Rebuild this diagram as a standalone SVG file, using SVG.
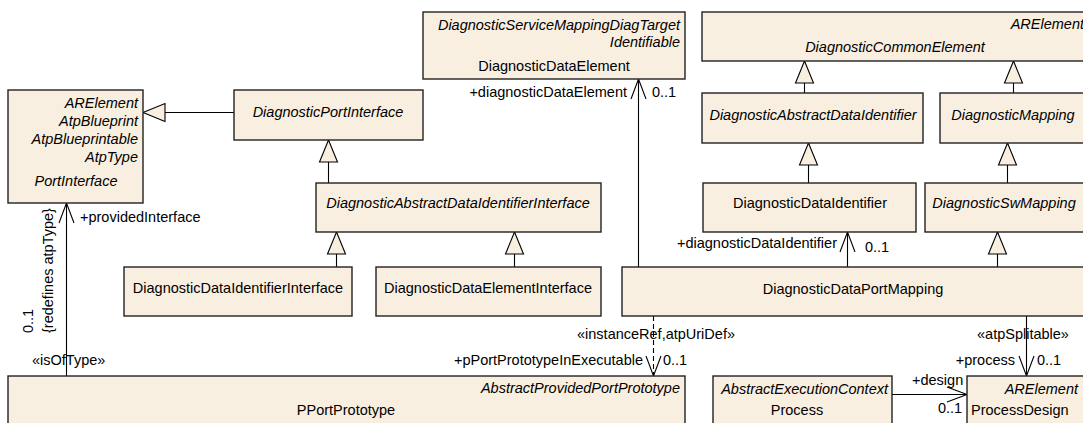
<svg xmlns="http://www.w3.org/2000/svg" width="1083" height="423" viewBox="0 0 1083 423">
<style>
.box{fill:#F9EFE0;stroke:#222;stroke-width:1.4}
.t{font-family:"Liberation Sans",Arial,sans-serif;font-size:14.5px;fill:#000}
.i{font-style:italic}
.c{text-anchor:middle}
.r{text-anchor:end}
.ln{stroke:#000;stroke-width:1.1;fill:none}
.gen{marker-end:url(#gen)}
.arr{marker-end:url(#open)}
.dash{stroke-dasharray:5,3}
</style>
<defs>
<marker id="gen" viewBox="-1 -1 24 20" refX="22" refY="9" markerWidth="24" markerHeight="20" markerUnits="userSpaceOnUse" orient="auto" style="overflow:visible">
<path d="M0,0 L22,9 L0,18 Z" fill="#F9EFE0" stroke="#000" stroke-width="1.1"/>
</marker>
<marker id="open" viewBox="-1 -1 22 17" refX="20" refY="7.5" markerWidth="22" markerHeight="17" markerUnits="userSpaceOnUse" orient="auto" style="overflow:visible">
<path d="M0,0 L20,7.5 L0,15" fill="none" stroke="#000" stroke-width="1.1"/>
</marker>
</defs>
<rect width="1083" height="423" fill="#fff"/>

<g id="connectors">
<path class="ln gen" d="M234,112.5 H143"/>
<path class="ln gen" d="M328.5,183 V140"/>
<path class="ln gen" d="M336.5,267 V232"/>
<path class="ln gen" d="M514.5,267 V232"/>
<path class="ln gen" d="M804.5,93 V61"/>
<path class="ln gen" d="M1013.5,93 V61"/>
<path class="ln gen" d="M808.5,183 V143"/>
<path class="ln gen" d="M1007.5,183 V143"/>
<path class="ln gen" d="M997.5,267 V232"/>
<path class="ln arr" d="M847.5,267 V232"/>
<path class="ln arr" d="M638.5,267 V79"/>
<path class="ln arr dash" d="M653.5,316 V376"/>
<path class="ln arr" d="M1026.5,316 V376"/>
<path class="ln arr" d="M892,394.5 H967"/>
<path class="ln arr" d="M66.5,376 V203"/>
<text class="t" x="80" y="222">+providedInterface</text>
<text class="t" transform="translate(53,333) rotate(-90)">{redefines atpType}</text>
<text class="t" transform="translate(33,333) rotate(-90)">0..1</text>
<text class="t" x="32" y="365">«isOfType»</text>
<text class="t r" x="627" y="97">+diagnosticDataElement</text>
<text class="t" x="652" y="97">0..1</text>
<text class="t r" x="837" y="248">+diagnosticDataIdentifier</text>
<text class="t" x="865" y="252">0..1</text>
<text class="t" x="577" y="339">«instanceRef,atpUriDef»</text>
<text class="t r" x="643" y="365">+pPortPrototypeInExecutable</text>
<text class="t" x="663" y="365">0..1</text>
<text class="t" x="977" y="339">«atpSplitable»</text>
<text class="t r" x="1015" y="365">+process</text>
<text class="t" x="1037" y="365">0..1</text>
<text class="t" x="912" y="385">+design</text>
<text class="t" x="938" y="413">0..1</text>
</g>

<g id="PortInterface">
<rect class="box" x="8" y="90" width="135" height="113"/>
<text class="t i r" x="138" y="108">ARElement</text>
<text class="t i r" x="138" y="126">AtpBlueprint</text>
<text class="t i r" x="138" y="144">AtpBlueprintable</text>
<text class="t i r" x="138" y="162">AtpType</text>
<text class="t i c" x="76" y="186">PortInterface</text>
</g>

<g id="DiagnosticPortInterface">
<rect class="box" x="234" y="90" width="189" height="50"/>
<text class="t i c" x="328" y="117">DiagnosticPortInterface</text>
</g>

<g id="DiagnosticAbstractDataIdentifierInterface">
<rect class="box" x="316" y="183" width="285" height="49"/>
<text class="t i c" x="458" y="208">DiagnosticAbstractDataIdentifierInterface</text>
</g>

<g id="DiagnosticDataIdentifierInterface">
<rect class="box" x="124" y="267" width="228" height="49"/>
<text class="t c" x="238" y="293">DiagnosticDataIdentifierInterface</text>
</g>

<g id="DiagnosticDataElementInterface">
<rect class="box" x="376" y="267" width="225" height="49"/>
<text class="t c" x="488" y="293">DiagnosticDataElementInterface</text>
</g>

<g id="DiagnosticDataElement">
<rect class="box" x="423" y="12" width="262" height="67"/>
<text class="t i r" x="680" y="30">DiagnosticServiceMappingDiagTarget</text>
<text class="t i r" x="680" y="47">Identifiable</text>
<text class="t c" x="554" y="71">DiagnosticDataElement</text>
</g>

<g id="DiagnosticCommonElement">
<rect class="box" x="702" y="12" width="390" height="49"/>
<text class="t i r" x="1084" y="29">ARElement</text>
<text class="t i c" x="895" y="52">DiagnosticCommonElement</text>
</g>

<g id="DiagnosticAbstractDataIdentifier">
<rect class="box" x="702" y="93" width="221" height="50"/>
<text class="t i c" x="813" y="120">DiagnosticAbstractDataIdentifier</text>
</g>

<g id="DiagnosticMapping">
<rect class="box" x="940" y="93" width="150" height="50"/>
<text class="t i c" x="1013" y="120">DiagnosticMapping</text>
</g>

<g id="DiagnosticDataIdentifier">
<rect class="box" x="703" y="183" width="213" height="49"/>
<text class="t c" x="810" y="208">DiagnosticDataIdentifier</text>
</g>

<g id="DiagnosticSwMapping">
<rect class="box" x="925" y="183" width="165" height="49"/>
<text class="t i c" x="1004" y="208">DiagnosticSwMapping</text>
</g>

<g id="DiagnosticDataPortMapping">
<rect class="box" x="622" y="267" width="470" height="49"/>
<text class="t c" x="853" y="294">DiagnosticDataPortMapping</text>
</g>

<g id="PPortPrototype">
<rect class="box" x="8" y="376" width="677" height="60"/>
<text class="t i r" x="680" y="393">AbstractProvidedPortPrototype</text>
<text class="t c" x="346" y="415">PPortPrototype</text>
</g>

<g id="Process">
<rect class="box" x="713" y="376" width="179" height="60"/>
<text class="t i r" x="888" y="394">AbstractExecutionContext</text>
<text class="t c" x="797" y="415">Process</text>
</g>

<g id="ProcessDesign">
<rect class="box" x="967" y="376" width="130" height="60"/>
<text class="t i r" x="1078" y="394">ARElement</text>
<text class="t" x="971" y="415">ProcessDesign</text>
</g>
</svg>
